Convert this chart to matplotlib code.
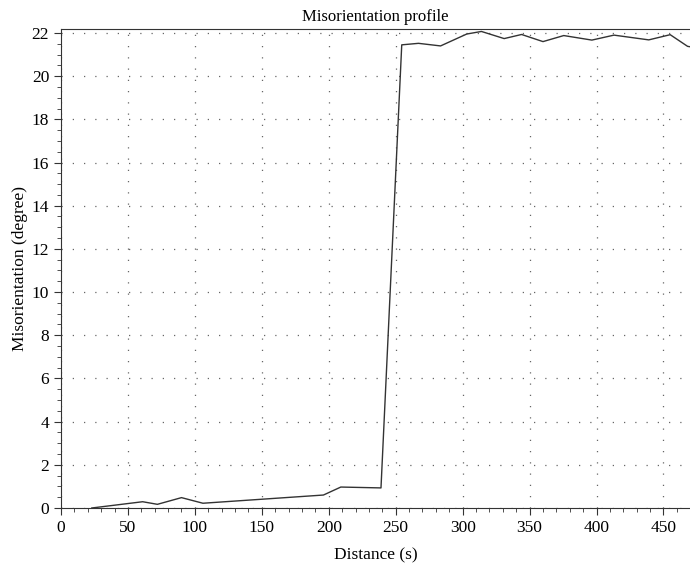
import matplotlib.pyplot as plt
from matplotlib.ticker import MultipleLocator

# Misorientation profile values
distance = [23, 61, 72, 90, 106, 196, 209, 239, 254.5, 267, 283.5, 303, 314,
            331, 344, 360, 375.5, 396.5, 413, 439, 455, 468, 470]
misorientation = [0.0, 0.29, 0.17, 0.48, 0.22, 0.6, 0.97, 0.93, 21.45, 21.52,
                  21.4, 21.95, 22.07, 21.74, 21.93, 21.6, 21.88, 21.67, 21.9,
                  21.68, 21.92, 21.38, 21.36]

plt.rcParams['font.family'] = ['Liberation Serif', 'DejaVu Serif']

fig = plt.figure(figsize=(6.9, 5.77), dpi=100)
ax = fig.add_axes([0.0884, 0.1196, 0.912, 0.83])

ax.plot(distance, misorientation, color='#333333', linewidth=1.0)

ax.set_xlim(0, 470)
ax.set_ylim(0, 22.18)
ax.xaxis.set_major_locator(MultipleLocator(50))
ax.xaxis.set_minor_locator(MultipleLocator(10))
ax.yaxis.set_major_locator(MultipleLocator(2))
ax.yaxis.set_minor_locator(MultipleLocator(0.5))
ax.tick_params(which='both', direction='out', labelsize=12.5, color='#333333')
ax.tick_params(which='major', length=5)
ax.tick_params(which='minor', length=3)
ax.grid(True, which='major', linestyle=(0, (1, 8)), color='#666666', linewidth=0.9)
ax.spines['right'].set_visible(False)
for s in ['top', 'left', 'bottom']:
    ax.spines[s].set_color('#333333')

ax.set_xlabel('Distance (s)', fontsize=12.5, labelpad=8)
ax.set_ylabel('Misorientation (degree)', fontsize=12.5, labelpad=3)
ax.set_title('Misorientation profile', fontsize=12, pad=6)

plt.savefig('out.png', dpi=100)
